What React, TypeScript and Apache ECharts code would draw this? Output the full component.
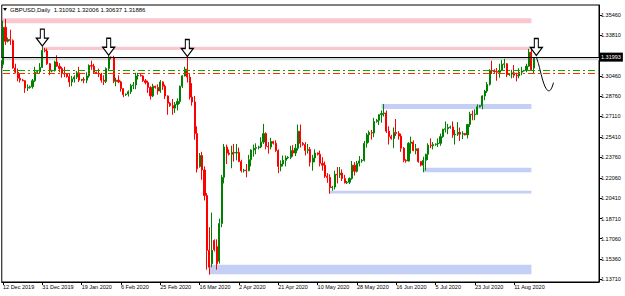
import React, { useEffect, useRef } from "react";
import * as echarts from "echarts";

// ---------- tick labels ----------
const tickLabels = [
  "12 Dec 2019", "31 Dec 2019", "19 Jan 2020", "6 Feb 2020", "25 Feb 2020", "16 Mar 2020", "2 Apr 2020",
  "21 Apr 2020", "10 May 2020", "28 May 2020", "16 Jun 2020", "5 Jul 2020", "23 Jul 2020", "11 Aug 2020",
];
const TICK_STEP = 16;
const TOTAL_SLOTS = 243;
const priceTicks = [1.3546, 1.3381, 1.3046, 1.2876, 1.2711, 1.2541, 1.2376, 1.2206, 1.2041, 1.1871, 1.1706, 1.1536, 1.1371];
const priceMin = 1.13488;
const priceMax = 1.36283;
const lastPrice = 1.31993;
const headerSymbol = "GBPUSD,Daily";
const headerOHLC = [1.31092, 1.32006, 1.30637, 1.31886];

// ---------- candles [open, high, low, close] ----------
const dec2019 = [
  [1.3140, 1.3500, 1.3110, 1.3445], [1.3445, 1.3514, 1.3300, 1.3330], [1.3330, 1.3360, 1.3320, 1.3345],
  [1.3345, 1.3425, 1.3300, 1.3335], [1.3335, 1.3345, 1.3105, 1.3110], [1.3110, 1.3145, 1.3065, 1.3075],
  [1.3075, 1.3105, 1.3000, 1.3025], [1.3025, 1.3065, 1.2990, 1.3010], [1.3010, 1.3020, 1.3000, 1.3005],
  [1.3005, 1.3010, 1.2905, 1.2945], [1.2945, 1.2975, 1.2920, 1.2950], [1.2950, 1.2965, 1.2940, 1.2955],
  [1.2955, 1.3020, 1.2940, 1.3005], [1.3005, 1.3120, 1.2995, 1.3075], [1.3075, 1.3085, 1.3065, 1.3080],
  [1.3080, 1.3150, 1.3065, 1.3115], [1.3115, 1.3285, 1.3110, 1.3255],
];
const jan2020 = [
  [1.3255, 1.3275, 1.3240, 1.3250], [1.3250, 1.3270, 1.3135, 1.3145], [1.3145, 1.3150, 1.3050, 1.3085],
  [1.3085, 1.3095, 1.3075, 1.3090], [1.3090, 1.3170, 1.3080, 1.3160], [1.3160, 1.3215, 1.3120, 1.3125],
  [1.3125, 1.3150, 1.3075, 1.3105], [1.3105, 1.3120, 1.3030, 1.3065], [1.3065, 1.3120, 1.3035, 1.3060],
  [1.3060, 1.3065, 1.3030, 1.3040], [1.3040, 1.3060, 1.2955, 1.2995], [1.2995, 1.3045, 1.2960, 1.3020],
  [1.3020, 1.3050, 1.2990, 1.3035], [1.3035, 1.3085, 1.3020, 1.3070], [1.3070, 1.3120, 1.2995, 1.3010],
  [1.3010, 1.3020, 1.3000, 1.3015], [1.3015, 1.3035, 1.2985, 1.3010], [1.3010, 1.3075, 1.2985, 1.3045],
  [1.3045, 1.3140, 1.3030, 1.3130], [1.3130, 1.3170, 1.3095, 1.3125], [1.3125, 1.3145, 1.3060, 1.3075],
  [1.3075, 1.3080, 1.3060, 1.3065], [1.3065, 1.3105, 1.3035, 1.3060], [1.3060, 1.3070, 1.2990, 1.3010],
  [1.3010, 1.3050, 1.2970, 1.3000], [1.3000, 1.3115, 1.2985, 1.3105], [1.3105, 1.3210, 1.3085, 1.3200],
];
const feb2020 = [
  [1.3200, 1.3205, 1.3180, 1.3195], [1.3195, 1.3210, 1.2985, 1.3000], [1.3000, 1.3030, 1.2960, 1.3010],
  [1.3010, 1.3050, 1.2985, 1.2995], [1.2995, 1.3005, 1.2915, 1.2940], [1.2940, 1.2945, 1.2870, 1.2890],
  [1.2890, 1.2900, 1.2880, 1.2895], [1.2895, 1.2925, 1.2875, 1.2915], [1.2915, 1.2980, 1.2895, 1.2965],
  [1.2965, 1.2995, 1.2935, 1.2970], [1.2970, 1.3070, 1.2935, 1.3045], [1.3045, 1.3070, 1.3015, 1.3050],
  [1.3050, 1.3060, 1.3040, 1.3045], [1.3045, 1.3050, 1.2995, 1.3005], [1.3005, 1.3020, 1.2975, 1.2990],
  [1.2990, 1.3005, 1.2905, 1.2950], [1.2950, 1.2960, 1.2850, 1.2880], [1.2880, 1.2980, 1.2870, 1.2960],
  [1.2960, 1.2965, 1.2940, 1.2950], [1.2950, 1.2975, 1.2890, 1.2920], [1.2920, 1.3010, 1.2905, 1.2995],
  [1.2995, 1.3000, 1.2930, 1.2960], [1.2960, 1.2975, 1.2855, 1.2880], [1.2880, 1.2885, 1.2725, 1.2820],
];
const mar2020 = [
  [1.2820, 1.2830, 1.2790, 1.2800], [1.2800, 1.2855, 1.2725, 1.2780], [1.2780, 1.2830, 1.2740, 1.2810],
  [1.2810, 1.2860, 1.2760, 1.2835], [1.2835, 1.2965, 1.2815, 1.2960], [1.2960, 1.3050, 1.2945, 1.3045],
  [1.3045, 1.3120, 1.3040, 1.3100], [1.3100, 1.3200, 1.2990, 1.3035], [1.3035, 1.3060, 1.2850, 1.2870],
  [1.2870, 1.2985, 1.2800, 1.2830], [1.2830, 1.2880, 1.2520, 1.2570], [1.2570, 1.2630, 1.2250, 1.2280],
  [1.2300, 1.2410, 1.2290, 1.2390], [1.2390, 1.2420, 1.2190, 1.2270], [1.2270, 1.2300, 1.2020, 1.2060],
  [1.2060, 1.2080, 1.1450, 1.1610], [1.1610, 1.1800, 1.1409, 1.1470], [1.1500, 1.1920, 1.1470, 1.1610],
  [1.1690, 1.1700, 1.1600, 1.1615], [1.1640, 1.1700, 1.1450, 1.1500], [1.1520, 1.1870, 1.1500, 1.1830],
  [1.1830, 1.2230, 1.1800, 1.2210], [1.2210, 1.2485, 1.2160, 1.2460], [1.2460, 1.2480, 1.2320, 1.2410],
  [1.2410, 1.2440, 1.2390, 1.2400], [1.2400, 1.2470, 1.2285, 1.2415], [1.2415, 1.2485, 1.2340, 1.2410],
];
const apr2020 = [
  [1.2410, 1.2485, 1.2350, 1.2415], [1.2415, 1.2455, 1.2335, 1.2340], [1.2340, 1.2355, 1.2250, 1.2265],
  [1.2265, 1.2280, 1.2250, 1.2270], [1.2270, 1.2320, 1.2210, 1.2265], [1.2265, 1.2395, 1.2260, 1.2355],
  [1.2355, 1.2440, 1.2300, 1.2435], [1.2435, 1.2480, 1.2380, 1.2450], [1.2450, 1.2490, 1.2400, 1.2455],
  [1.2455, 1.2470, 1.2440, 1.2460], [1.2460, 1.2540, 1.2450, 1.2500], [1.2500, 1.2650, 1.2485, 1.2570],
  [1.2570, 1.2580, 1.2440, 1.2465], [1.2465, 1.2500, 1.2405, 1.2460], [1.2460, 1.2535, 1.2440, 1.2505],
  [1.2505, 1.2510, 1.2480, 1.2490], [1.2490, 1.2515, 1.2420, 1.2430], [1.2430, 1.2440, 1.2245, 1.2300],
  [1.2300, 1.2350, 1.2260, 1.2320], [1.2320, 1.2390, 1.2300, 1.2350], [1.2350, 1.2390, 1.2300, 1.2370],
  [1.2370, 1.2385, 1.2360, 1.2375], [1.2375, 1.2470, 1.2360, 1.2430], [1.2430, 1.2475, 1.2380, 1.2410],
  [1.2410, 1.2485, 1.2385, 1.2450], [1.2450, 1.2645, 1.2430, 1.2590], [1.2590, 1.2645, 1.2455, 1.2490],
];
const may2020 = [
  [1.2490, 1.2500, 1.2470, 1.2480], [1.2480, 1.2500, 1.2390, 1.2430], [1.2430, 1.2485, 1.2405, 1.2440],
  [1.2440, 1.2460, 1.2300, 1.2335], [1.2335, 1.2395, 1.2265, 1.2370], [1.2370, 1.2440, 1.2335, 1.2410],
  [1.2410, 1.2415, 1.2390, 1.2400], [1.2400, 1.2430, 1.2300, 1.2325], [1.2325, 1.2375, 1.2265, 1.2310],
  [1.2310, 1.2340, 1.2205, 1.2220], [1.2220, 1.2245, 1.2165, 1.2210], [1.2210, 1.2235, 1.2075, 1.2125],
  [1.2125, 1.2140, 1.2100, 1.2130], [1.2130, 1.2265, 1.2110, 1.2235], [1.2235, 1.2295, 1.2160, 1.2230],
  [1.2230, 1.2295, 1.2205, 1.2245], [1.2245, 1.2275, 1.2180, 1.2200], [1.2200, 1.2230, 1.2160, 1.2165],
  [1.2165, 1.2180, 1.2155, 1.2170], [1.2170, 1.2210, 1.2155, 1.2200], [1.2200, 1.2345, 1.2190, 1.2310],
  [1.2310, 1.2335, 1.2225, 1.2260], [1.2260, 1.2345, 1.2250, 1.2325], [1.2325, 1.2385, 1.2300, 1.2345],
];
const jun2020 = [
  [1.2345, 1.2360, 1.2330, 1.2350], [1.2350, 1.2510, 1.2340, 1.2490], [1.2490, 1.2575, 1.2455, 1.2560],
  [1.2560, 1.2595, 1.2495, 1.2580], [1.2580, 1.2600, 1.2520, 1.2575], [1.2575, 1.2700, 1.2540, 1.2670],
  [1.2670, 1.2690, 1.2660, 1.2680], [1.2680, 1.2730, 1.2640, 1.2725], [1.2725, 1.2760, 1.2660, 1.2735],
  [1.2735, 1.2813, 1.2710, 1.2740], [1.2740, 1.2760, 1.2575, 1.2590], [1.2590, 1.2630, 1.2480, 1.2545],
  [1.2545, 1.2560, 1.2520, 1.2530], [1.2530, 1.2620, 1.2450, 1.2580], [1.2580, 1.2690, 1.2550, 1.2570],
  [1.2570, 1.2590, 1.2520, 1.2550], [1.2550, 1.2570, 1.2420, 1.2450], [1.2450, 1.2460, 1.2335, 1.2350],
  [1.2350, 1.2360, 1.2330, 1.2345], [1.2345, 1.2500, 1.2340, 1.2490], [1.2490, 1.2545, 1.2405, 1.2500],
  [1.2500, 1.2515, 1.2425, 1.2430], [1.2430, 1.2485, 1.2400, 1.2445], [1.2445, 1.2450, 1.2330, 1.2340],
  [1.2340, 1.2345, 1.2300, 1.2310], [1.2310, 1.2380, 1.2252, 1.2350], [1.2350, 1.2405, 1.2265, 1.2400],
];
const jul2020 = [
  [1.2400, 1.2490, 1.2352, 1.2475], [1.2475, 1.2531, 1.2450, 1.2470], [1.2470, 1.2500, 1.2440, 1.2480],
  [1.2480, 1.2490, 1.2470, 1.2485], [1.2485, 1.2530, 1.2460, 1.2490], [1.2490, 1.2570, 1.2470, 1.2545],
  [1.2545, 1.2610, 1.2535, 1.2605], [1.2605, 1.2670, 1.2580, 1.2610], [1.2610, 1.2650, 1.2565, 1.2620],
  [1.2620, 1.2635, 1.2610, 1.2625], [1.2625, 1.2670, 1.2535, 1.2560], [1.2560, 1.2600, 1.2480, 1.2565],
  [1.2565, 1.2665, 1.2550, 1.2580], [1.2580, 1.2620, 1.2510, 1.2565], [1.2565, 1.2590, 1.2525, 1.2570],
  [1.2570, 1.2575, 1.2555, 1.2560], [1.2560, 1.2650, 1.2530, 1.2645], [1.2645, 1.2750, 1.2625, 1.2730],
  [1.2730, 1.2760, 1.2680, 1.2725], [1.2725, 1.2770, 1.2680, 1.2730], [1.2730, 1.2810, 1.2725, 1.2790],
  [1.2790, 1.2805, 1.2785, 1.2800], [1.2800, 1.2885, 1.2770, 1.2880], [1.2880, 1.2930, 1.2845, 1.2920],
  [1.2920, 1.2995, 1.2905, 1.2975], [1.2975, 1.3100, 1.2965, 1.3090], [1.3090, 1.3170, 1.3060, 1.3085],
];
const aug2020 = [
  [1.3085, 1.3100, 1.3070, 1.3080], [1.3080, 1.3110, 1.3005, 1.3075], [1.3075, 1.3145, 1.3030, 1.3090],
  [1.3090, 1.3175, 1.3085, 1.3140], [1.3140, 1.3185, 1.3108, 1.3145], [1.3145, 1.3150, 1.3035, 1.3055],
  [1.3055, 1.3065, 1.3045, 1.3060], [1.3060, 1.3095, 1.3025, 1.3070], [1.3070, 1.3135, 1.3030, 1.3050],
  [1.3050, 1.3070, 1.3000, 1.3045], [1.3045, 1.3108, 1.3025, 1.3075], [1.3075, 1.3120, 1.3050, 1.3085],
  [1.3085, 1.3095, 1.3080, 1.3090], [1.3090, 1.3145, 1.3075, 1.3125], [1.3125, 1.3267, 1.3120, 1.3240],
  [1.3240, 1.3265, 1.3090, 1.3095], [1.31092, 1.32006, 1.30637, 1.31886],
];

// ---------- drawn objects ----------
// zones: [fromBar, toBar, low, high]
const pinkZones = [
  [0, 215, 1.3478, 1.3519],
  [16, 215, 1.3258, 1.3285],
];
const blueZones = [
  [154, 215, 1.2773, 1.2813],
  [171, 215, 1.2252, 1.2290],
  [133, 215, 1.2078, 1.2100],
  [84, 215, 1.1412, 1.1490],
];
const greyBand = [1.3173, 1.3193];
const greenOrderLine = 1.30893;
const redOrderLine = 1.30646;
const orderLabel = "#26560103 buy 0.01";
// down arrows: [bar, tip price]
const arrowMarks = [
  [16, 1.3290],
  [43, 1.3215],
  [75, 1.3205],
  [217, 1.3212],
];
// curved hand-drawn arrow: [bar, price]
const hookPath = [
  [217.4, 1.3200], [218.3, 1.3135], [219.1, 1.3055], [219.8, 1.2985], [220.6, 1.2940],
  [221.7, 1.2922], [222.9, 1.2936], [224.1, 1.2990],
];

const candles = [...dec2019, ...jan2020, ...feb2020, ...mar2020, ...apr2020, ...may2020, ...jun2020, ...jul2020, ...aug2020];

export default function App() {
  const ref = useRef<HTMLDivElement>(null);
  useEffect(() => {
    const el = ref.current!;
    const chart = echarts.init(el, null, { renderer: "svg", width: 625, height: 296 });
    const cats = Array.from({ length: TOTAL_SLOTS }, (_, i) => String(i));
    const showTick = (i: number) => i % TICK_STEP === 0 && i / TICK_STEP < tickLabels.length;
    const ecData = candles.map((c) => [c[0], c[3], c[2], c[1]]);
    const zoneData = (zs: number[][], color: string) =>
      zs.map((z) => [{ xAxis: z[0], yAxis: z[2], itemStyle: { color } }, { xAxis: z[1], yAxis: z[3] }]);
    const arrowPath = "path://M4,0 L8,0 L8,9 L12,9 L6,17 L0,9 L4,9 Z";
    const font = "'Liberation Sans', Arial, sans-serif";

    chart.setOption({
      animation: false,
      backgroundColor: "#ffffff",
      grid: { left: 1, right: 26, top: 5, bottom: 14, show: true, borderColor: "#000", borderWidth: 1, backgroundColor: "#fff" },
      xAxis: {
        type: "category",
        data: cats,
        boundaryGap: true,
        axisLine: { show: true, lineStyle: { color: "#000", width: 1 } },
        axisTick: { show: true, interval: (i: number) => showTick(i), alignWithLabel: true, length: 3, lineStyle: { color: "#000" } },
        axisLabel: {
          show: true,
          interval: (i: number) => showTick(i),
          formatter: (_v: string, i: number) => (showTick(i) ? tickLabels[i / TICK_STEP] : ""),
          align: "left",
          fontSize: 5.5,
          fontFamily: font,
          color: "#000",
          margin: 2,
        },
        splitLine: { show: false },
      },
      yAxis: {
        type: "value",
        position: "right",
        min: priceMin,
        max: priceMax,
        scale: true,
        axisLine: { show: true, lineStyle: { color: "#000", width: 1 } },
        axisTick: { show: true, customValues: priceTicks, length: 3, lineStyle: { color: "#000" } },
        axisLabel: {
          show: true,
          customValues: priceTicks,
          formatter: (v: number) => v.toFixed(5),
          fontSize: 5.5,
          fontFamily: font,
          color: "#000",
          margin: 2,
        },
        splitLine: { show: false },
      },
      series: [
        {
          type: "line",
          data: [],
          z: 1,
          silent: true,
          markArea: {
            silent: true,
            data: [
              ...zoneData(pinkZones, "#f8c8ce"),
              ...zoneData(blueZones, "#c3cff5"),
              [{ x: 1, yAxis: greyBand[0], itemStyle: { color: "#d8d8d8" } }, { x: 599, yAxis: greyBand[1] }],
            ],
          },
        },
        {
          type: "line",
          z: 4,
          silent: true,
          symbol: "none",
          itemStyle: { color: "#00a800" },
          lineStyle: { color: "#00a800", width: 1, type: [7, 3, 2, 3] },
          data: [[0, greenOrderLine], [TOTAL_SLOTS - 1, greenOrderLine]],
        },
        {
          type: "line",
          z: 6,
          silent: true,
          symbol: "none",
          itemStyle: { color: "#ff2a00" },
          lineStyle: { color: "#ff2a00", width: 1, type: [7, 3, 2, 3] },
          data: [[0, redOrderLine], [TOTAL_SLOTS - 1, redOrderLine]],
        },
        {
          type: "candlestick",
          data: ecData,
          z: 3,
          barWidth: 1.6,
          itemStyle: { color: "#008000", color0: "#ff0000", borderColor: "#008000", borderColor0: "#ff0000", borderWidth: 1 },
          markLine: {
            silent: true,
            symbol: "none",
            precision: 5,
            data: [
              {
                yAxis: lastPrice,
                lineStyle: { color: "#000000", width: 1, type: "solid" },
                label: {
                  show: true,
                  position: "end",
                  distance: 0,
                  formatter: lastPrice.toFixed(5),
                  backgroundColor: "#000",
                  color: "#fff",
                  fontSize: 5.5,
                  fontFamily: font,
                  padding: [2, 2, 1, 2],
                },
              },
              {
                yAxis: greenOrderLine,
                lineStyle: { opacity: 0 },
                label: {
                  show: true,
                  position: "insideStartTop",
                  distance: 1,
                  formatter: orderLabel,
                  color: "#333",
                  fontSize: 5.5,
                  fontFamily: font,
                },
              },
            ],
          },
        },
        {
          type: "scatter",
          z: 5,
          silent: true,
          symbol: arrowPath,
          symbolSize: [12, 17],
          symbolOffset: [0, "-50%"],
          itemStyle: { color: "#fff", borderColor: "#000", borderWidth: 1.2, opacity: 1 },
          data: arrowMarks,
        },
      ],
    });

    const pts = hookPath.map((p) => chart.convertToPixel({ gridIndex: 0 }, p) as number[]);
    chart.setOption({
      graphic: [
        { type: "polyline", shape: { points: pts, smooth: 0.4 }, style: { stroke: "#000", lineWidth: 1, fill: null }, z: 10 },
        { type: "polygon", shape: { points: [[3, 8], [7, 8], [5, 11]] }, style: { fill: "#000" }, z: 10 },
        {
          type: "text",
          x: 10,
          y: 9.5,
          style: {
            text: headerSymbol + "  " + headerOHLC.map((v) => v.toFixed(5)).join(" "),
            fontSize: 6,
            fontFamily: font,
            fill: "#000",
            verticalAlign: "middle",
          },
          z: 10,
        },
      ],
    });

    return () => chart.dispose();
  }, []);
  return <div ref={ref} style={{ position: "fixed", left: 0, top: 0, width: 625, height: 296, background: "#fff" }} />;
}
